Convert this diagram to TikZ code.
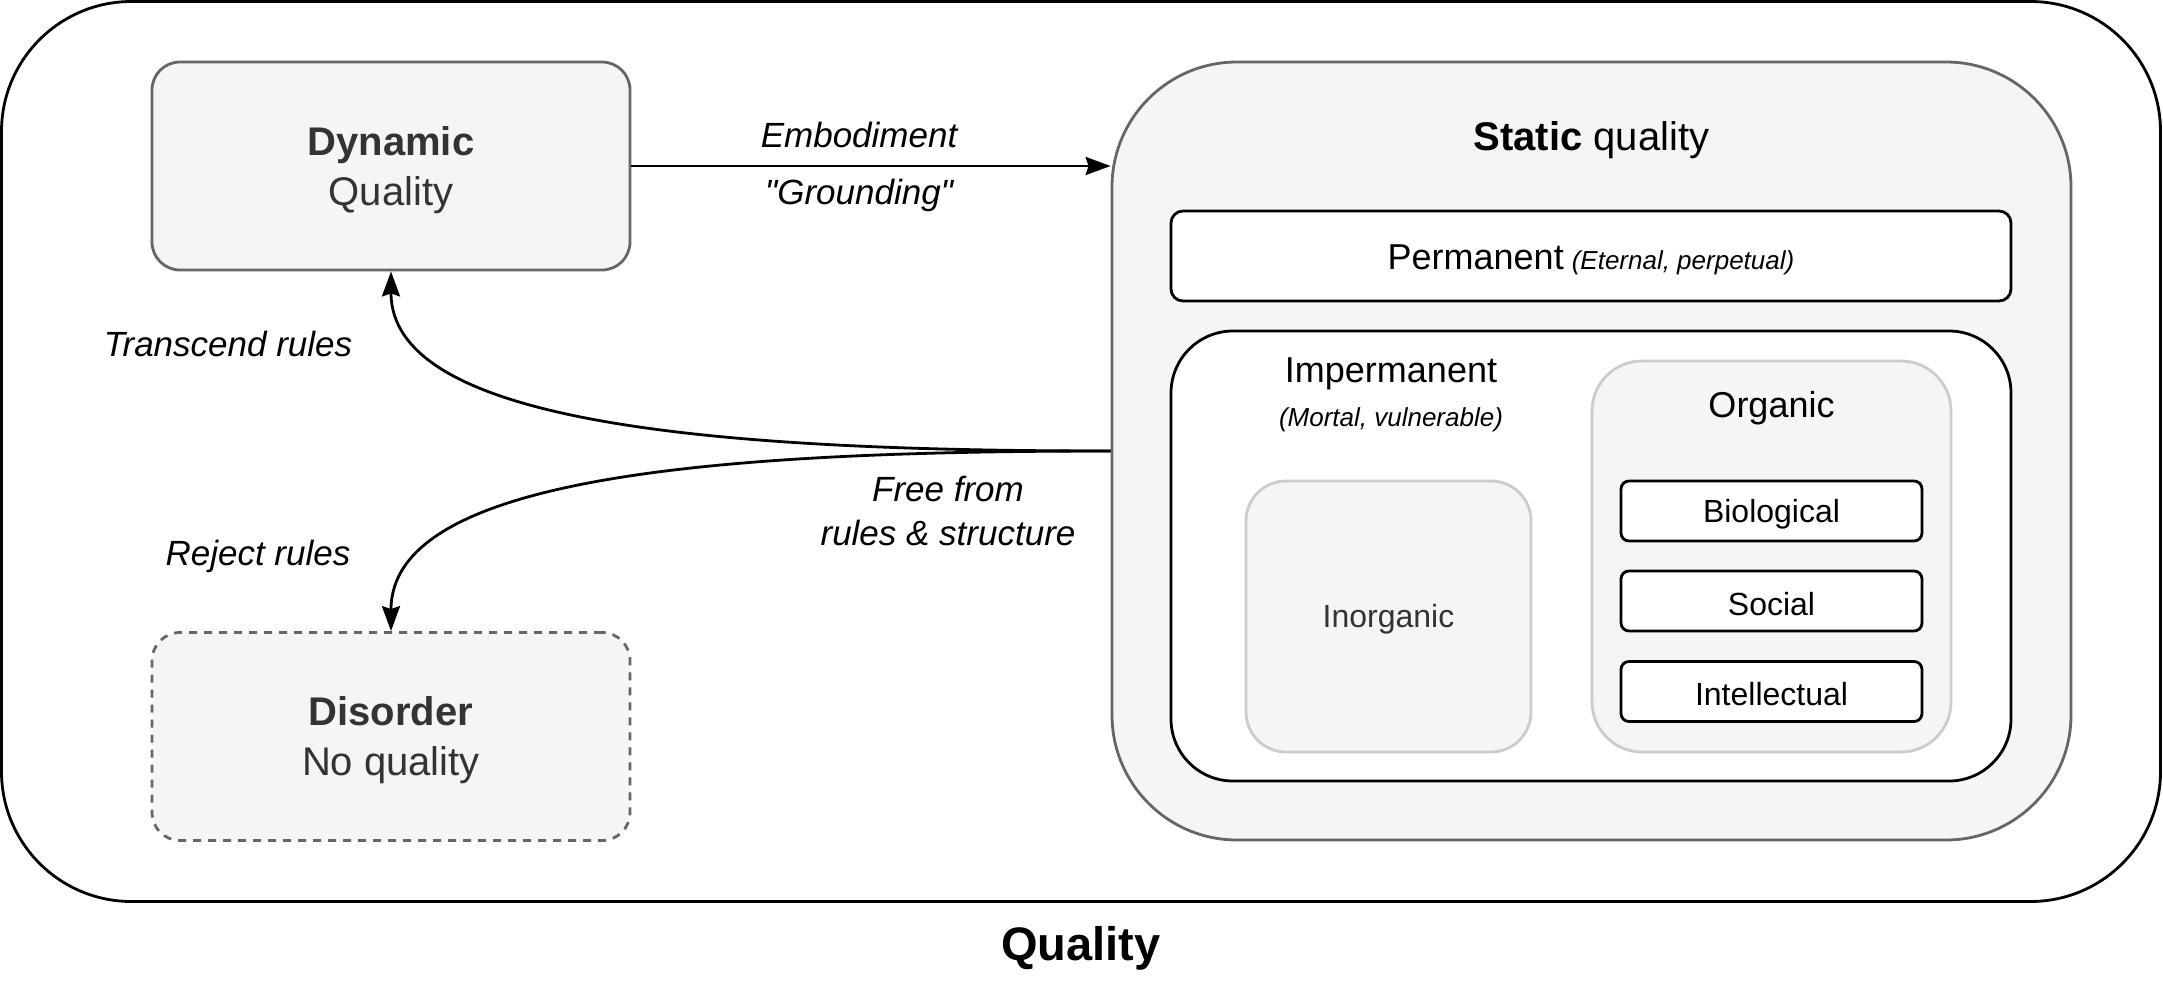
\documentclass[tikz,border=0pt]{standalone}
\usepackage{fontspec}
\setmainfont{Liberation Sans}[Ligatures=TeXOff]
\usetikzlibrary{arrows.meta,calc}
\definecolor{boxfill}{HTML}{F5F5F5}
\definecolor{boxline}{HTML}{666666}
\definecolor{lightline}{HTML}{CCCCCC}
\definecolor{darktext}{HTML}{333333}
\tikzset{
  box/.style={draw, rectangle, inner sep=0pt, line width=2.8pt, align=center},
  graybox/.style={box, draw=boxline, fill=boxfill},
  lightbox/.style={box, draw=lightline, fill=boxfill},
  whitebox/.style={box, draw=black, fill=white},
  txt/.style={inner sep=0pt, align=center},
  lbl/.style={inner sep=0pt, align=center, font=\fontsize{35}{44}\selectfont\itshape},
  conn/.style={line width=2.8pt, -{Stealth[length=25pt,width=18pt,inset=3pt]}},
}
\begin{document}
\begin{tikzpicture}[x=1pt,y=-1pt]
\useasboundingbox (0,0) rectangle (2163,993);
% outer
\node[box, draw=black, minimum width=2159pt, minimum height=900pt, rounded corners=130pt] (outer) at (1081,451.5) {};
\node[txt, font=\fontsize{47}{56}\selectfont\bfseries, anchor=base] (qlabel) at (1081,960) {Quality};
% dynamic
\node[graybox, minimum width=478pt, minimum height=208pt, rounded corners=28pt] (dyn) at (391,166) {};
\node[txt, text=darktext, font=\fontsize{40}{50}\selectfont] (dyntxt) at ($(dyn.center)+(0,4)$) {\textbf{Dynamic}\\Quality};
% disorder
\node[graybox, dash pattern=on 8pt off 7pt, minimum width=478pt, minimum height=208pt, rounded corners=28pt] (dis) at (391,736.5) {};
\node[txt, text=darktext, font=\fontsize{40}{50}\selectfont] (distxt) at ($(dis.center)+(0,4)$) {\textbf{Disorder}\\No quality};
% static
\node[graybox, minimum width=959pt, minimum height=778pt, rounded corners=125pt] (static) at (1591.5,451) {};
\node[txt, font=\fontsize{40}{48}\selectfont] (stitle) at (1591.5,140) {\textbf{Static} quality};
% permanent
\node[whitebox, minimum width=840pt, minimum height=90pt, rounded corners=12pt] (perm) at (1591,256) {};
\node[txt, font=\fontsize{36}{44}\selectfont] (permtxt) at ($(perm.center)+(0,4)$) {Permanent\hspace{8pt}{\fontsize{26}{30}\selectfont\itshape(Eternal, perpetual)}};
% impermanent
\node[whitebox, minimum width=840pt, minimum height=450pt, rounded corners=62pt] (imp) at (1591,556) {};
\node[txt, font=\fontsize{36}{44}\selectfont] (imptitle) at (1391,374) {Impermanent};
\node[txt, font=\fontsize{26}{30}\selectfont\itshape] (impsub) at (1391,420) {(Mortal, vulnerable)};
% inorganic
\node[lightbox, minimum width=285pt, minimum height=271pt, rounded corners=40pt] (inorg) at (1388.5,616.5) {};
\node[txt, text=darktext, font=\fontsize{32}{40}\selectfont] (inorgtxt) at ($(inorg.center)+(0,3)$) {Inorganic};
% organic
\node[lightbox, minimum width=359pt, minimum height=391pt, rounded corners=50pt] (org) at (1771.5,556.5) {};
\node[txt, font=\fontsize{36}{44}\selectfont] (orgtitle) at (1771.5,408) {Organic};
\node[whitebox, minimum width=301pt, minimum height=60pt, rounded corners=8pt] (bio) at (1771.5,511) {};
\node[whitebox, minimum width=301pt, minimum height=60pt, rounded corners=8pt] (soc) at (1771.5,601) {};
\node[whitebox, minimum width=301pt, minimum height=60pt, rounded corners=8pt] (intel) at (1771.5,691.5) {};
\node[txt, font=\fontsize{32}{40}\selectfont] (biotxt) at ($(bio.center)+(0,3)$) {Biological};
\node[txt, font=\fontsize{32}{40}\selectfont] (soctxt) at ($(soc.center)+(0,3)$) {Social};
\node[txt, font=\fontsize{32}{40}\selectfont] (inteltxt) at ($(intel.center)+(0,3)$) {Intellectual};
% embodiment arrow
\draw[conn] (dyn.east) -- (dyn.east -| static.west)
  node[lbl, pos=0.475, yshift=31pt] (emb) {Embodiment}
  node[lbl, pos=0.475, yshift=-29pt] (grd) {"Grounding"};
% curves
\draw[conn] (static.west) .. controls (700,451) and ($(dyn.south)+(0,150)$) .. (dyn.south);
\draw[conn] (static.west) .. controls (700,451) and ($(dis.north)+(0,-152)$) .. (dis.north);
\node[lbl] (trans) at (228,344) {Transcend rules};
\node[lbl] (rej) at (258,556) {Reject rules};
\node[lbl] (free) at (948,511) {Free from\\rules \& structure};
\end{tikzpicture}
\end{document}
